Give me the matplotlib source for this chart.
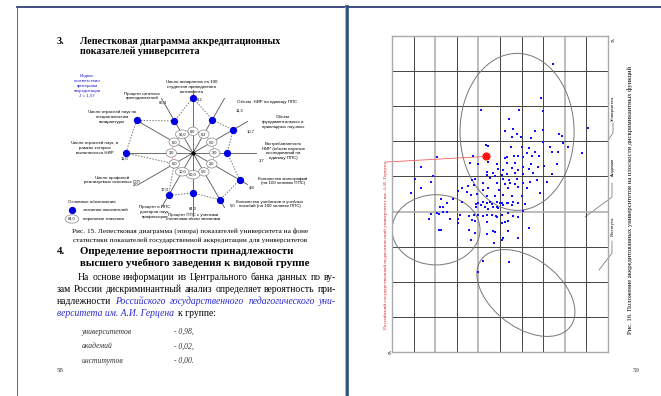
import numpy as np
import matplotlib.pyplot as plt
from matplotlib.patches import Ellipse

plt.rcParams['font.family'] = ['Liberation Serif', 'DejaVu Serif']
SANS = ['Liberation Sans', 'DejaVu Sans']

# ---- лепестковая диаграмма (рис. 15) ----
radar_angles = [90, 60, 30, 0, -30, -60, -90, -120, -150, 180, 150, 120]
radar_rel = [0.79, 0.55, 0.66, 0.49, 0.77, 0.77, 0.57, 0.70, 0.31, 0.96, 0.93, 0.53]
radar_values = ['6,2', '11,3', '10,7', '3,7', '4,8', '5,0', '64,0', '17,0', '2,0', '11,0', '20,0', '66,4']
radar_thresholds = ['0,0', '0,2', '5,0', '3,0', '2,0', '5,0', '60,0', '10,0', '6,0', '3,0', '6,0', '90,0']
radar_names = [
    'Число аспирантов на 100\nстудентов приведенного\nконтингента',
    'Объем  НИР на единицу ППС',
    'Объем\nфундаментальных и\nприкладных научных',
    'Востребованность\nНИР (объем научных\nисследований на\nединицу ППС)',
    'Количество монографий\n(на 100 человек ППС)',
    'Количество учебников и учебных\nпособий (на 100 человек ППС)',
    'Процент ППС с учеными\nстепенями и/или званиями',
    'Процент в ППС\nдокторов наук,\nпрофессоров',
    'Число профилей\nреализуемых основных ОП',
    'Число отраслей наук, в\nрамках которых\nвыполняются НИР',
    'Число отраслей наук по\nспециальностям\nаспирантуры',
    'Процент штатных\nпреподавателей',
]

# ---- вузы на плоскости дискриминантных функций (рис. 16) ----
pts_x = [7.44, 6.90, 6.98, 4.12, 5.86, 5.43, 9.06, 5.23, 5.59, 6.62, 6.98, 5.77, 5.54, 5.96, 6.42,
         7.72, 7.87, 4.35, 4.46, 5.49, 6.00, 6.36, 6.98, 7.31, 7.93, 8.16, 6.23, 6.62, 7.39, 8.80,
         7.70, 2.08, 3.73, 5.23, 5.34, 5.66, 5.85, 6.08, 6.47, 6.82, 3.61, 3.97, 4.44, 4.85, 5.31,
         5.69, 6.08, 6.44, 6.77, 7.05, 7.65, 1.33, 4.92, 5.15, 5.57, 5.85, 6.34, 4.38, 4.69, 5.08,
         5.31, 5.69, 6.08, 6.54, 7.39, 1.90, 1.81, 1.08, 3.69, 3.84, 4.38, 4.54, 4.77, 5.15, 5.43,
         5.77, 6.39, 6.70, 7.16, 3.53, 3.80, 4.23, 4.85, 5.23, 5.46, 5.69, 6.08, 4.46, 4.95, 5.39,
         5.85, 6.23, 3.23, 4.20, 0.88, 1.34, 3.07, 3.49, 3.64, 3.92, 4.38, 4.77, 5.15, 5.57, 6.00,
         6.85, 2.25, 2.53, 2.81, 3.23, 4.00, 4.23, 4.54, 5.00, 5.31, 5.85, 6.16, 3.89, 4.85, 3.89,
         4.12, 4.38, 4.61, 4.85, 5.08, 5.39, 5.62, 2.22, 2.38, 2.56, 4.31, 4.46, 4.69, 4.92, 5.15,
         5.54, 6.08, 1.81, 2.07, 2.16, 2.38, 2.56, 3.15, 3.58, 3.80, 4.00, 4.20, 4.41, 4.65, 4.80,
         4.86, 5.11, 5.39, 5.59, 5.85, 1.71, 2.69, 3.07, 3.07, 3.69, 3.84, 4.41, 5.11, 5.23, 5.35,
         6.36, 2.19, 2.25, 3.58, 3.84, 4.38, 4.66, 4.77, 5.39, 3.66, 4.74, 5.08, 5.12, 5.82, 4.23,
         5.43, 3.97]
pts_y = [8.21, 7.23, 6.85, 6.89, 6.89, 6.65, 6.37, 6.30, 6.34, 6.30, 6.32, 6.20, 6.12, 6.12, 6.09,
         6.20, 6.15, 5.89, 5.88, 5.85, 5.85, 5.80, 5.99, 5.84, 5.96, 5.85, 5.68, 5.71, 5.71, 5.68,
         5.71, 5.56, 5.59, 5.52, 5.54, 5.57, 5.57, 5.55, 5.57, 5.57, 5.38, 5.35, 5.42, 5.36, 5.39,
         5.38, 5.28, 5.35, 5.28, 5.31, 5.36, 5.27, 5.20, 5.19, 5.23, 5.19, 5.20, 5.14, 5.09, 5.04,
         5.06, 5.09, 5.07, 5.11, 5.06, 5.00, 4.85, 4.92, 4.90, 4.92, 5.03, 4.95, 5.01, 4.92, 4.90,
         4.92, 4.85, 4.90, 4.85, 4.73, 4.76, 4.82, 4.81, 4.79, 4.82, 4.78, 4.82, 4.66, 4.62, 4.66,
         4.69, 4.66, 4.66, 4.62, 4.52, 4.68, 4.59, 4.55, 4.47, 4.49, 4.45, 4.43, 4.47, 4.43, 4.44,
         4.52, 4.36, 4.25, 4.35, 4.28, 4.24, 4.28, 4.28, 4.25, 4.24, 4.25, 4.22, 4.14, 4.14, 4.21,
         4.19, 4.25, 4.21, 4.28, 4.24, 4.25, 4.28, 4.14, 4.14, 4.25, 4.14, 4.06, 4.12, 4.09, 4.19,
         4.19, 4.03, 3.93, 3.97, 3.92, 3.99, 3.99, 3.90, 3.88, 3.90, 3.91, 3.86, 3.91, 3.90, 3.86,
         3.84, 3.90, 3.95, 3.87, 3.84, 3.80, 3.80, 3.79, 3.68, 3.76, 3.74, 3.71, 3.67, 3.69, 3.74,
         3.52, 3.48, 3.47, 3.48, 3.38, 3.36, 3.45, 3.43, 3.46, 3.19, 3.11, 3.19, 3.24, 3.24, 2.59,
         2.57, 2.28]
herzen = (4.35, 5.57)
# группы: центр x, центр y, ширина, высота, угол
groups = {
    'Университеты': (5.79, 6.27, 5.28, 4.47, 0),
    'Академии': (2.04, 3.48, 4.07, 2.00, 0),
    'Институты': (6.20, 1.68, 4.70, 2.15, -17),
}

fig = plt.figure(figsize=(6.61, 3.96), dpi=100)
page = fig.add_axes([0, 0, 1, 1])
page.set_xlim(0, 661)
page.set_ylim(396, 0)
page.axis('off')
renderer = fig.canvas.get_renderer()


def justify(segments, x0, x1, y, size):
    """Выравнивание строки по ширине: segments = [(текст, стиль, цвет), ...]"""
    items = []
    for text, style, color in segments:
        for w in text.split():
            t = page.text(0, y, w, fontsize=size, style=style, color=color, va='center')
            items.append(t)
    widths = [t.get_window_extent(renderer).width for t in items]
    gap = (x1 - x0 - sum(widths)) / max(len(items) - 1, 1)
    x = x0
    for t, w in zip(items, widths):
        t.set_x(x)
        x += w + gap
    return x


# рамка разворота
page.plot([17, 661], [7, 7], color='#1f2f6a', lw=1.2)
page.plot([17, 17], [7, 396], color='#3a4a7a', lw=0.6)
page.plot([347, 347], [7, 396], color='#2c4d7c', lw=2.6)
page.plot([345, 345], [7, 396], color='#9db3cf', lw=0.8)

# ---- левая страница ----
page.text(57, 41, '3.', fontsize=7.3, weight='bold', va='center')
page.text(80, 41, 'Лепестковая диаграмма аккредитационных', fontsize=7.2, weight='bold', va='center')
page.text(80, 51, 'показателей университета', fontsize=7.2, weight='bold', va='center')

page.text(87, 86, 'Индекс\nсоответствия\nкритериям\nаккредитации\nJ = 1,57', color='#2020d0',
          fontsize=3.2, family=SANS, ha='center', va='center', linespacing=1.3)

name_pos = [(192, 87, 'center'), (237, 102, 'left'), (283, 122, 'center'), (283, 151, 'center'),
            (283, 181, 'center'), (270, 204, 'center'), (193, 217, 'center'), (155, 212, 'center'),
            (112, 180, 'center'), (95, 148, 'center'), (112, 117, 'center'), (142, 96, 'center')]
value_pos = [(200, 100), (240, 111), (251, 132), (262, 161), (252, 188), (233, 206), (193, 209),
             (165, 190), (136, 185), (125, 159), (139, 122), (163, 103)]
for name, (x, y, ha), val, (vx, vy) in zip(radar_names, name_pos, radar_values, value_pos):
    page.text(x, y, name, fontsize=3.2, family=SANS, ha=ha, va='center', linespacing=1.3)
    page.text(vx, vy, val, fontsize=3, family=SANS, ha='center', va='center')

page.text(68, 202, 'Основные обозначения', fontsize=3.2, family=SANS, va='center')
page.scatter([72], [210], s=18, color='#0000e0')
page.text(83, 210, 'значения показателей', fontsize=3.2, family=SANS, va='center')
page.text(72, 219, '84,0', fontsize=2.8, family=SANS, ha='center', va='center',
          bbox=dict(boxstyle='ellipse,pad=0.25', fc='white', ec='#888', lw=0.5))
page.text(83, 219, 'пороговые значения', fontsize=3.2, family=SANS, va='center')

page.text(190, 231, 'Рис. 15. Лепестковая диаграмма (эпюра) показателей университета на фоне',
          fontsize=5.2, ha='center', va='center')
page.text(190, 240, 'статистики показателей государственной аккредитации для университетов',
          fontsize=5.2, ha='center', va='center')

page.text(57, 251, '4.', fontsize=7.8, weight='bold', va='center')
page.text(80, 251, 'Определение вероятности принадлежности', fontsize=7.8, weight='bold', va='center')
page.text(80, 263, 'высшего учебного заведения к видовой группе', fontsize=7.8, weight='bold', va='center')

BLUE = '#2a2ad0'
BODY = 6.9
justify([('На основе информации из Центрального банка данных по ву-', 'normal', 'black')],
        78, 336, 277, BODY)
justify([('зам России дискриминантный анализ определяет вероятность при-', 'normal', 'black')],
        57, 336, 289, BODY)
justify([('надлежности', 'normal', 'black'),
         ('Российского государственного педагогического уни-', 'italic', BLUE)],
        57, 336, 301, BODY)
last = page.text(57, 313, 'верситета им. А.И. Герцена', fontsize=BODY, va='center',
                 style='italic', color=BLUE)
end = 57 + last.get_window_extent(renderer).width
page.text(end + 4, 313, 'к группе:', fontsize=BODY, va='center')

groups_prob = ['университетов', 'академий', 'институтов']
prob_values = ['- 0,98,', '- 0,02,', '- 0,00.']
for i, (g, p) in enumerate(zip(groups_prob, prob_values)):
    page.text(82, 332 + i * 14.5, g, fontsize=5.5, style='italic', va='center', color='#333')
    page.text(174, 332 + i * 14.5, p, fontsize=5.5, style='italic', va='center', color='#333')
page.text(57, 371, '58', fontsize=5, va='center', color='#444')

# радар
R = 70
radar = fig.add_axes([(193 - R) / 661, (396 - 153 - R) / 396, 2 * R / 661, 2 * R / 396],
                     projection='polar')
radar.set_theta_zero_location('E')
radar.set_ylim(0, 1)
radar.axis('off')
th = np.deg2rad(radar_angles)
for t, r in zip(th, radar_rel):
    radar.plot([t, t], [0, max(r, 0.9)], color='#555', lw=0.6)
thc = np.append(th, th[0])
radar.plot(thc, np.append(radar_rel, radar_rel[0]), ls=(0, (1.5, 1.5)), color='#777', lw=0.7)
radar.plot(thc, [0.31] * len(thc), color='#d88', lw=0.5)
radar.scatter(th, radar_rel, s=18, color='#0000e0', zorder=5)
radar.scatter([0], [0], s=4, color='black', zorder=5)
for t, lbl in zip(th, radar_thresholds):
    radar.text(t, 0.31, lbl, fontsize=2.8, family=SANS, ha='center', va='center', zorder=6,
               bbox=dict(boxstyle='ellipse,pad=0.25', fc='white', ec='#888', lw=0.5))

# ---- правая страница ----
sc = fig.add_axes([392 / 661, 44 / 396, 216 / 661, 316 / 396])
sc.set_xlim(0, 10)
sc.set_ylim(0, 9)
sc.set_facecolor('none')
for s in sc.spines.values():
    s.set_color('#aaa')
    s.set_linewidth(1.0)
sc.set_xticks([])
sc.set_yticks([])
light_cols = [2, 4, 8]
for c in range(1, 10):
    if c in light_cols:
        sc.axvline(c, color='#aaa', lw=1.1, zorder=0)
    else:
        sc.axvline(c, color='#444', lw=0.7, zorder=0)
for r in range(1, 9):
    sc.axhline(r, color='#aaa' if r == 4 else '#444', lw=1.1 if r == 4 else 0.7, zorder=0)

for name, (cx, cy, w, h, ang) in groups.items():
    sc.add_patch(Ellipse((cx, cy), w, h, angle=ang, fill=False, ec='#777', lw=0.7))

sc.scatter(pts_x, pts_y, s=4, color='#1010ff', marker='s', lw=0, zorder=3)
sc.scatter([herzen[0]], [herzen[1]], s=24, color='#ff1010', zorder=4)
sc.plot([-0.28, herzen[0]], [herzen[1] - 0.16, herzen[1]], color='#f06060', lw=0.6, clip_on=False)

page.text(386, 245, 'Российский государственный педагогический университет им. А.И. Герцена',
          rotation=90, fontsize=3.7, color='#e02020', ha='center', va='center')
page.text(611, 40, 'Y1', rotation=270, fontsize=3, family=SANS, ha='center', va='center')
page.text(388, 353, 'Y2', rotation=270, fontsize=3, family=SANS, ha='center', va='center')

page.text(613, 108, 'Университеты', rotation=90, fontsize=2.8, family=SANS, ha='center', va='center')
page.plot([613, 613, 608], [123, 133, 140], color='#666', lw=0.5)
page.text(613, 167, 'Академии', rotation=90, fontsize=2.8, family=SANS, ha='center', va='center')
page.plot([612, 612, 585], [183, 197, 217], color='#666', lw=0.5)
page.text(613, 226, 'Институты', rotation=90, fontsize=2.8, family=SANS, ha='center', va='center')
page.plot([612, 612, 599], [241, 253, 270], color='#666', lw=0.5)

page.text(630, 200, 'Рис. 16. Положение аккредитованных университетов на плоскости дискриминантных функций',
          rotation=90, fontsize=4.8, ha='center', va='center')
page.text(633, 371, '59', fontsize=5, va='center', color='#444')

fig.savefig('out.png', dpi=100)
